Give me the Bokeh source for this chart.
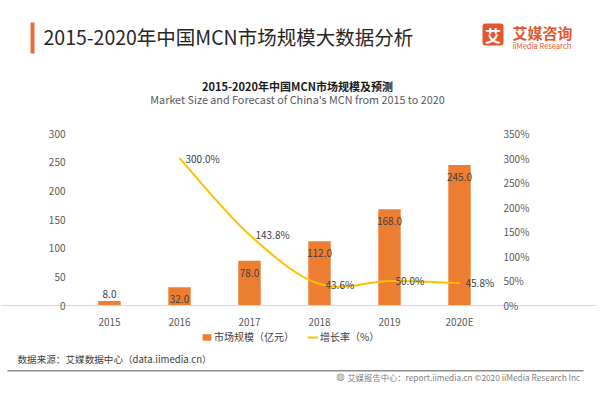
from bokeh.plotting import figure
from bokeh.models import (Range1d, LinearAxis, FixedTicker, PrintfTickFormatter, ColumnDataSource,
                          LabelSet, Label, BoxAnnotation, Legend, LegendItem)
from bokeh.core.properties import value
from bokeh.embed import file_html
from bokeh.resources import INLINE

# ---- data ----
years = ["2015", "2016", "2017", "2018", "2019", "2020E"]
market = [8.0, 32.0, 78.0, 112.0, 168.0, 245.0]
growth_years = ["2016", "2017", "2018", "2019", "2020E"]
growth = [300.0, 143.8, 43.6, 50.0, 45.8]
left_ticks = [0, 50, 100, 150, 200, 250, 300]
right_ticks = [0, 50, 100, 150, 200, 250, 300, 350]

FONT = "Noto Sans CJK SC"
ORANGE = "#ED7D31"
YELLOW = "#FFC000"
TXT = "#404040"

W, H = 596, 392
# plot-area geometry in page pixels
PL, PR, PT, PB = 74, 494, 133, 305
LMAX, RMAX = 300.0, 350.0
ncat = len(years)
xu = (PR - PL) / ncat
ly = (PB - PT) / LMAX
ry = (PB - PT) / RMAX

p = figure(width=W, height=H, output_backend="svg", toolbar_location=None, title=None,
           x_range=Range1d(-PL / xu, (W - PL) / xu),
           y_range=Range1d(-(H - PB) / ly, PB / ly),
           min_border=0, x_axis_location=None, y_axis_location=None)
p.outline_line_color = None
p.xgrid.visible = False
p.ygrid.visible = False
p.extra_y_ranges = {"pct": Range1d(-(H - PB) / ry, PB / ry)}

xpos = {y: i + 0.5 for i, y in enumerate(years)}

xa = LinearAxis(fixed_location=0, ticker=FixedTicker(ticks=[xpos[y] for y in years]))
xa.major_label_overrides = {xpos[y]: y for y in years}
xa.axis_line_color = "#D9D9D9"
xa.major_label_standoff = 8
p.add_layout(xa, "below")
ya = LinearAxis(fixed_location=0, ticker=FixedTicker(ticks=left_ticks))
ya.axis_line_color = None
ya.major_label_standoff = 9
p.add_layout(ya, "left")
ra = LinearAxis(y_range_name="pct", fixed_location=ncat, ticker=FixedTicker(ticks=right_ticks),
                formatter=PrintfTickFormatter(format="%d%%"))
ra.axis_line_color = None
ra.major_label_standoff = 9
p.add_layout(ra, "right")
for ax in (xa, ya, ra):
    ax.major_tick_line_color = None
    ax.minor_tick_line_color = None
    ax.major_tick_out = 0
    ax.major_tick_in = 0
    ax.minor_tick_out = 0
    ax.major_label_text_font = FONT
    ax.major_label_text_font_size = "10px"
    ax.major_label_text_color = "#595959"

bsrc = ColumnDataSource(dict(x=[xpos[y] for y in years], top=market,
                             txt=["%.1f" % v for v in market],
                             off=[7 if v < 20 else -12 for v in market]))
bars = p.vbar(x="x", top="top", width=0.32, source=bsrc, fill_color=ORANGE, line_color=None)
p.add_layout(LabelSet(x="x", y="top", text="txt", y_offset="off", source=bsrc,
                      text_align="center", text_baseline="middle",
                      text_font=value(FONT), text_font_size="10px", text_color=TXT))

# smooth growth curve (Catmull-Rom -> cubic Bezier through the data points)
gx = [xpos[y] for y in growth_years]
gy = growth
n = len(gx)
x0, y0, x1, y1, cx0, cy0, cx1, cy1 = [], [], [], [], [], [], [], []
for i in range(n - 1):
    pxm, pym = (gx[i - 1], gy[i - 1]) if i > 0 else (gx[i], gy[i])
    pxp, pyp = (gx[i + 2], gy[i + 2]) if i + 2 < n else (gx[i + 1], gy[i + 1])
    x0.append(gx[i]); y0.append(gy[i]); x1.append(gx[i + 1]); y1.append(gy[i + 1])
    cx0.append(gx[i] + (gx[i + 1] - pxm) / 6); cy0.append(gy[i] + (gy[i + 1] - pym) / 6)
    cx1.append(gx[i + 1] - (pxp - gx[i]) / 6); cy1.append(gy[i + 1] - (pyp - gy[i]) / 6)
csrc = ColumnDataSource(dict(x0=x0, y0=y0, x1=x1, y1=y1, cx0=cx0, cy0=cy0, cx1=cx1, cy1=cy1))
curve = p.bezier(x0="x0", y0="y0", x1="x1", y1="y1", cx0="cx0", cy0="cy0", cx1="cx1", cy1="cy1",
                 source=csrc, line_color=YELLOW, line_width=2, y_range_name="pct")
gsrc = ColumnDataSource(dict(x=gx, y=gy, txt=["%.1f%%" % v for v in gy]))
p.add_layout(LabelSet(x="x", y="y", text="txt", source=gsrc, y_range_name="pct", x_offset=6,
                      text_align="left", text_baseline="middle",
                      text_font=value(FONT), text_font_size="10px", text_color=TXT))

legend = Legend(items=[LegendItem(label="市场规模（亿元）", renderers=[bars]),
                       LegendItem(label="增长率（%）", renderers=[curve])],
                orientation="horizontal", location=(201, H - 344),
                glyph_width=11, glyph_height=8, label_height=12, label_standoff=2, spacing=13,
                padding=0, margin=0, border_line_color=None, background_fill_alpha=0,
                label_text_font=FONT, label_text_font_size="10px", label_text_color=TXT)
p.add_layout(legend)


# ---- page decorations, positioned in page pixels (screen units) ----
def box(l, r, t, b, color, radius=0):
    p.add_layout(BoxAnnotation(left=l, right=r, top=H - t, bottom=H - b,
                               left_units="screen", right_units="screen",
                               top_units="screen", bottom_units="screen",
                               fill_color=color, fill_alpha=1, line_color=None,
                               border_radius=radius, editable=False))


def lab(x, y, text, size, color, align="left", style="normal", font=FONT):
    p.add_layout(Label(x=x, y=H - y, x_units="screen", y_units="screen", text=text,
                       text_font=font, text_font_size=size, text_color=color,
                       text_align=align, text_baseline="middle", text_font_style=style))


box(30, 34, 22, 53, "#EE6A3C")
lab(43, 36, "2015-2020年中国MCN市场规模大数据分析", "19.5px", "#262626")
box(482, 503, 23, 45, "#E4572E", radius=3)
lab(492.5, 34, "艾", "16px", "white", align="center", style="bold")
lab(512, 32, "艾媒咨询", "15px", "#E4572E", style="bold")
lab(512, 45, "iiMedia Research", "7.5px", "#E4572E")
lab(297, 85, "2015-2020年中国MCN市场规模及预测", "11px", "#1a1a1a", align="center", style="bold")
lab(297, 98, "Market Size and Forecast of China's MCN from 2015 to 2020", "10.8px", "#595959",
    align="center")
lab(17, 358, "数据来源：艾媒数据中心（data.iimedia.cn）", "9.6px", "#404040")
box(7, 583, 369.5, 371, "#8C8C8C")
lab(340, 376, "◍", "10px", "#8C8C8C", align="center", font="DejaVu Sans")
lab(347, 376, "艾媒报告中心：report.iimedia.cn  ©2020  iiMedia Research Inc", "8.3px", "#7F7F7F")

open("out.html", "w").write(file_html(p, INLINE))
